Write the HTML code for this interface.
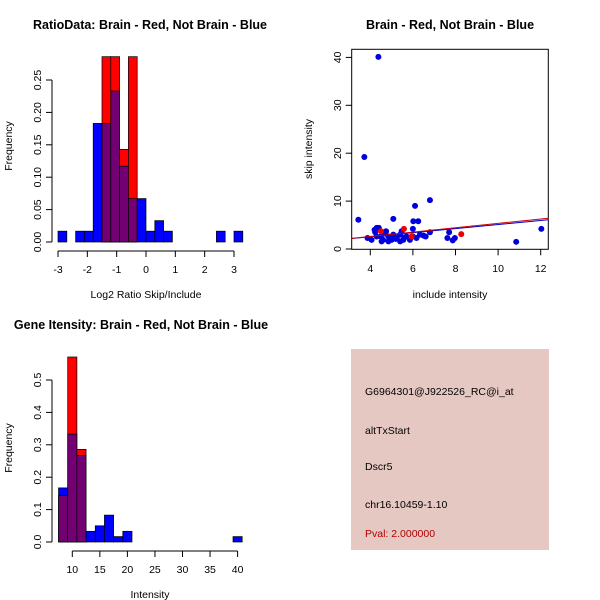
<!DOCTYPE html>
<html><head><meta charset="utf-8"><style>
body{margin:0;background:#fff}
svg{display:block;font-family:"Liberation Sans",sans-serif}
.t{font-weight:bold;font-size:12.5px}
.l{font-size:10.5px}
</style></head><body>
<svg id="s" width="600" height="600" viewBox="0 0 600 600">
<rect width="600" height="600" fill="#fff"/>
<text class="t" x="150" y="29" text-anchor="middle">RatioData: Brain - Red, Not Brain - Blue</text>
<text class="t" x="450" y="29" text-anchor="middle">Brain - Red, Not Brain - Blue</text>
<text class="t" x="141" y="329" text-anchor="middle">Gene Itensity: Brain - Red, Not Brain - Blue</text>
<text class="l" x="146" y="298" text-anchor="middle">Log2 Ratio Skip/Include</text>
<text class="l" transform="translate(12,146) rotate(-90)" text-anchor="middle">Frequency</text>
<text class="l" x="450" y="298" text-anchor="middle">include intensity</text>
<text class="l" transform="translate(312,149) rotate(-90)" text-anchor="middle">skip intensity</text>
<text class="l" x="150" y="598" text-anchor="middle">Intensity</text>
<text class="l" transform="translate(12,448) rotate(-90)" text-anchor="middle">Frequency</text>
<g>
<rect x="351" y="349" width="198" height="201" fill="#e6c8c2"/>
<text class="l" x="365" y="395">G6964301@J922526_RC@i_at</text>
<text class="l" x="365" y="434">altTxStart</text>
<text class="l" x="365" y="470">Dscr5</text>
<text class="l" x="365" y="508">chr16.10459-1.10</text>
<text class="l" x="365" y="537" fill="#b00000">Pval: 2.000000</text>
</g>
</svg>
<script>
// Ratio histogram data (bins of 0.3 from -3)
const ratioStart=-3, ratioWidth=0.3;
const ratioBlue=[0.0167,0,0.0167,0.0167,0.183,0.183,0.233,0.117,0.067,0.067,0.0167,0.033,0.0167,0,0,0,0,0,0.0167,0,0.0167];
const ratioRed=[0,0,0,0,0,0.286,0.286,0.143,0.286,0,0,0,0,0,0,0,0,0,0,0,0];
const ratioXTicks=[-3,-2,-1,0,1,2,3];
const ratioYTicks=[0,0.05,0.10,0.15,0.20,0.25];
const ratioYLabels=["0.00","0.05","0.10","0.15","0.20","0.25"];
// Intensity histogram data (bins of 5/3 from 7.5)
const intStart=7.5, intWidth=5/3;
const intBlue=[0.167,0.333,0.267,0.033,0.05,0.083,0.0167,0.033,0,0,0,0,0,0,0,0,0,0,0,0.0167];
const intRed=[0.143,0.571,0.286,0,0,0,0,0,0,0,0,0,0,0,0,0,0,0,0,0];
const intXTicks=[10,15,20,25,30,35,40];
const intYTicks=[0,0.1,0.2,0.3,0.4,0.5];
const intYLabels=["0.0","0.1","0.2","0.3","0.4","0.5"];
// Scatter data
const blueX=[3.44,3.72,4.38,5.08,6.1,6.02,6.25,6.8,6.0,10.85,12.03,7.7,7.62,7.87,7.97,6.8,6.6,3.87,4.06,4.23,4.3,4.4,4.5,4.6,4.74,4.85,5.0,5.08,5.24,5.4,5.47,5.55,5.7,5.86,6.0,6.17,6.33,6.5,4.3,4.53,5.4,4.85,4.2,4.7,5.2,5.6];
const blueY=[6.1,19.2,40.1,6.3,9.0,5.8,5.8,10.2,4.2,1.5,4.2,3.5,2.3,1.8,2.3,3.5,2.6,2.3,1.9,3.5,4.4,4.4,2.6,1.9,3.7,2.6,1.9,3.0,2.3,3.0,3.7,1.9,2.6,1.9,2.6,2.3,3.0,2.8,2.6,1.6,1.6,1.6,4.0,3.2,2.1,2.4];
const redX=[4.5,5.58,8.27,5.94];
const redY=[3.7,4.2,3.1,2.6];
const fitIntercept=[0.85,0.8];   // blue, red
const fitSlope=[0.425,0.455];
const scXTicks=[4,6,8,10,12];
const scYTicks=[0,10,20,30,40];

const NS='http://www.w3.org/2000/svg', svg=document.getElementById('s');
function el(tag,a,parent){const e=document.createElementNS(NS,tag);for(const k in a)e.setAttribute(k,a[k]);(parent||svg).appendChild(e);return e;}

function hist(name,start,width,blue,red,xs,ys,xT,yT,yl,xAxisY,yAxisX){
  const g=el('g',{});
  
  
  for(let i=0;i<blue.length;i++){
    const b=blue[i],r=red[i],x0=xs(start+i*width),x1=xs(start+(i+1)*width);
    const hi=Math.max(b,r),lo=Math.min(b,r);
    if(hi>0){
      const rc=el('rect',{x:x0,y:ys(hi),width:x1-x0,height:ys(0)-ys(hi),fill:r>b?'#ff0000':'#0000ff',stroke:'#000','stroke-width':0.7},g);
      
      
    }
    if(lo>0){
      const pc=el('rect',{x:x0,y:ys(lo),width:x1-x0,height:ys(0)-ys(lo),fill:'#720072',stroke:'#000','stroke-width':0.7},g);
      
      
    }
  }
  const ax=el('g',{stroke:'#000','stroke-width':1,fill:'none'},g);
  
  
  el('line',{x1:xs(xT[0]),x2:xs(xT[xT.length-1]),y1:xAxisY,y2:xAxisY},ax);
  xT.forEach(v=>{el('line',{x1:xs(v),x2:xs(v),y1:xAxisY,y2:xAxisY+6},ax);
    const t=el('text',{x:xs(v),y:xAxisY+22,'text-anchor':'middle','font-size':'10.5',fill:'#000',stroke:'none'},g);t.textContent=v;
    });
  el('line',{x1:yAxisX,x2:yAxisX,y1:ys(yT[0]),y2:ys(yT[yT.length-1])},ax);
  yT.forEach((v,i)=>{el('line',{x1:yAxisX-6,x2:yAxisX,y1:ys(v),y2:ys(v)},ax);
    const t=el('text',{transform:`translate(${yAxisX-11},${ys(v)}) rotate(-90)`,'text-anchor':'middle','font-size':'10.5',fill:'#000',stroke:'none'},g);t.textContent=yl[i];
    });
}
hist('ratio-histogram',ratioStart,ratioWidth,ratioBlue,ratioRed,v=>146+v*29.33,v=>242-v*648,ratioXTicks,ratioYTicks,ratioYLabels,251,52);
hist('intensity-histogram',intStart,intWidth,intBlue,intRed,v=>72.3+(v-10)*5.51,v=>542-v*324,intXTicks,intYTicks,intYLabels,551,52);

// scatter
const sx=v=>370.3+(v-4)*21.3, sy=v=>249-v*4.79;
const sg=el('g',{});


const box=el('rect',{x:351.7,y:49.3,width:196.6,height:200,fill:'none',stroke:'#000'},sg);


scXTicks.forEach(v=>{el('line',{x1:sx(v),x2:sx(v),y1:249.3,y2:255.3,stroke:'#000'},sg);
  const t=el('text',{x:sx(v),y:272,'text-anchor':'middle','font-size':'10.5'},sg);t.textContent=v;
  });
scYTicks.forEach(v=>{el('line',{x1:345.7,x2:351.7,y1:sy(v),y2:sy(v),stroke:'#000'},sg);
  const t=el('text',{transform:`translate(341,${sy(v)}) rotate(-90)`,'text-anchor':'middle','font-size':'10.5'},sg);t.textContent=v;
  });
blueX.forEach((v,i)=>{const c=el('circle',{cx:sx(v),cy:sy(blueY[i]),r:3,fill:'#0000dd'},sg);
  });
redX.forEach((v,i)=>{const c=el('circle',{cx:sx(v),cy:sy(redY[i]),r:3,fill:'#ee0000'},sg);
  });
const fitCol=['#0000cc','#cc0000'];
[0,1].forEach(k=>{const x0=3.13,x1=12.36;
  const ln=el('line',{x1:sx(x0),x2:sx(x1),y1:sy(fitIntercept[k]+fitSlope[k]*x0),y2:sy(fitIntercept[k]+fitSlope[k]*x1),stroke:fitCol[k],'stroke-width':1},sg);
  });
</script>
</body></html>
